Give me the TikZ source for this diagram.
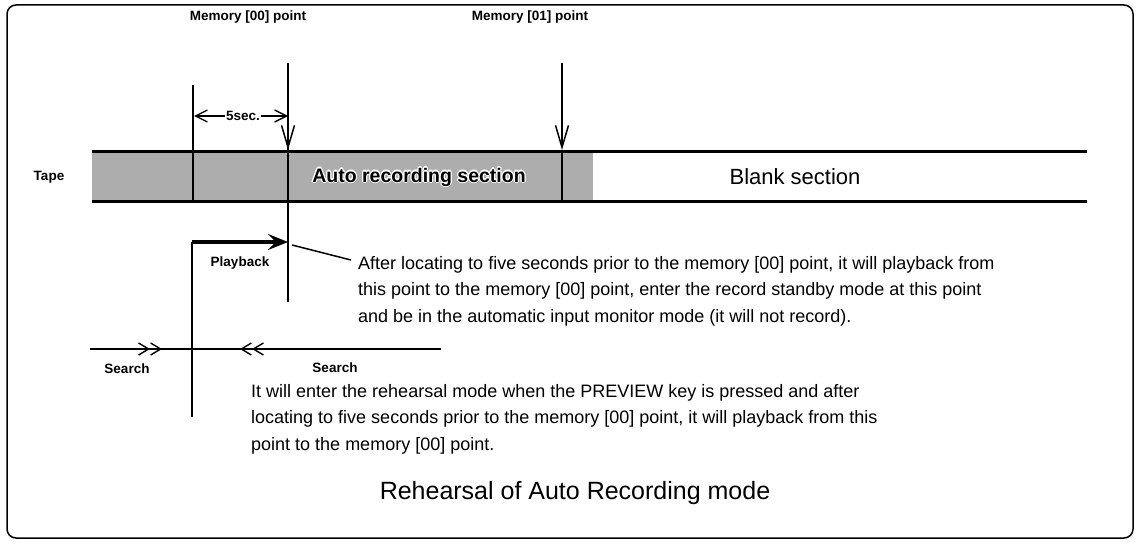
\documentclass[tikz,border=0pt]{standalone}
\usepackage{fontspec}
\setmainfont{Liberation Sans}
\usetikzlibrary{arrows.meta}
\tikzset{
  lbl/.style={font=\fontsize{13.5}{15}\selectfont\bfseries, inner sep=1pt},
  body/.style={font=\fontsize{18}{26.5}\selectfont, align=left, anchor=base west, inner sep=0pt},
  tapeline/.style={line width=3pt},
  divider/.style={line width=2pt},
  thinline/.style={line width=1.5pt},
  memarrow/.style={line width=1.5pt, -{Straight Barb[length=22pt,width=13pt,line width=1.5pt]}},
  secarrow/.style={line width=1.3pt, {Straight Barb[length=12pt,width=12pt,line width=1.3pt]}-{Straight Barb[length=12pt,width=12pt,line width=1.3pt]}},
  dblchev/.style={line width=1.4pt, -{Straight Barb[length=10pt,width=12pt,line width=1.4pt] Straight Barb[length=10pt,width=12pt,line width=1.4pt]}},
  playarrow/.style={line width=3.3pt, -{Stealth[length=20pt,width=16pt,inset=8pt]}},
}
\begin{document}
\begin{tikzpicture}[x=1pt,y=-1pt]
\useasboundingbox (0,0) rectangle (1139,543);
% frame
\draw[line width=1.5pt, rounded corners=9pt] (7,5) rectangle (1133,538);
% tape
\fill[black!32] (92,151) rectangle (593,201);
\coordinate (tTL) at (92,151);
\coordinate (tTR) at (1087,151);
\coordinate (tBL) at (92,201);
\coordinate (tBR) at (1087,201);
\draw[tapeline] (tTL) -- (tTR);
\draw[tapeline] (tBL) -- (tBR);
\node[lbl] (tape) at (49,177) {Tape};
% auto recording section text with white halo
\foreach \dx/\dy in {-1.2/0,1.2/0,0/-1.2,0/1.2,-0.85/-0.85,0.85/0.85,-0.85/0.85,0.85/-0.85}{
  \node[font=\fontsize{19.5}{22}\selectfont\bfseries, text=white] at (419+\dx,177+\dy) {Auto recording section};
}
\node[font=\fontsize{19.5}{22}\selectfont\bfseries] (auto) at (419,177) {Auto recording section};
\node[font=\fontsize{22}{24}\selectfont] (blank) at (795,177) {Blank section};
% memory labels
\node[lbl] (m00) at (248,17) {Memory [00] point};
\node[lbl] (m01) at (530,17) {Memory [01] point};
% memory [00] line
\coordinate (m00top) at (288,63);
\coordinate (m00tape) at (288,150);
\coordinate (m00bot) at (288,302);
\draw[thinline] (m00top) -- (m00tape);
\draw[divider] (m00tape) -- (m00bot);
\draw[memarrow] (m00top) -- (m00tape);
% memory [01] line
\coordinate (m01top) at (562,63);
\coordinate (m01tape) at (562,150);
\coordinate (m01bot) at (562,201);
\draw[divider] (m01tape) -- (m01bot);
\draw[memarrow] (m01top) -- (m01tape);
% 5 sec left vertical
\coordinate (fTop) at (193,85);
\coordinate (fBot) at (193,201);
\draw[divider] (fTop) -- (fBot);
\coordinate (sL) at (194,116);
\coordinate (sR) at (288,116);
\draw[secarrow] (sL) -- (sR);
\node[lbl, fill=white, inner sep=1.5pt] (five) at (243,116) {5sec.};
% playback
\coordinate (pBot) at (192,417);
\coordinate (pCorner) at (192,242);
\coordinate (pTip) at (288,242);
\draw[divider] (pBot) -- (pCorner);
\draw[playarrow] (pCorner) -- (pTip);
\node[lbl] (play) at (240,263) {Playback};
% search
\coordinate (sLa) at (90,349);
\coordinate (sLtip) at (162,349);
\coordinate (sMid) at (192,349);
\coordinate (sRe) at (441,349);
\coordinate (sRtip) at (240,349);
\draw[thinline] (sLa) -- (sRe);
\draw[dblchev] (sLa) -- (sLtip);
\draw[dblchev] (sRe) -- (sRtip);
\node[lbl] (srchL) at (127,369) {Search};
\node[lbl] (srchR) at (335,368) {Search};
% text paragraphs (anchor = baseline of last line)
\node[body] (p1) at (358,322) {After locating to five seconds prior to the memory [00] point, it will playback from\\
this point to the memory [00] point, enter the record standby mode at this point\\
and be in the automatic input monitor mode (it will not record).};
\coordinate (lead) at (292,245);
\draw[thinline] (lead) -- (351,260);
\node[body] (p2) at (251,450) {It will enter the rehearsal mode when the PREVIEW key is pressed and after\\
locating to five seconds prior to the memory [00] point, it will playback from this\\
point to the memory [00] point.};
% title
\node[font=\fontsize{25}{28}\selectfont] (title) at (575,493) {Rehearsal of Auto Recording mode};
\end{tikzpicture}
\end{document}
